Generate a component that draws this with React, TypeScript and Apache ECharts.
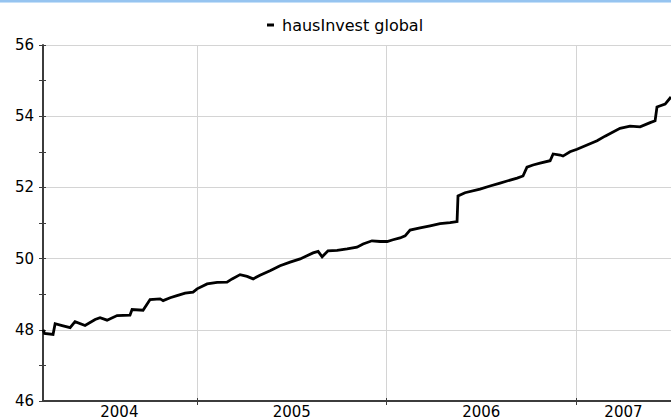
import React, { useEffect, useRef } from "react";
import * as echarts from "echarts";

const seriesName = "hausInvest global";
// decimal years
const dates = [
  2004.187, 2004.195, 2004.24, 2004.251, 2004.288, 2004.33, 2004.356, 2004.409, 2004.462, 2004.488,
  2004.525, 2004.578, 2004.646, 2004.657, 2004.715, 2004.752, 2004.805, 2004.821, 2004.858, 2004.894,
  2004.937, 2004.979, 2005.0, 2005.053, 2005.106, 2005.158, 2005.185, 2005.227, 2005.264, 2005.296,
  2005.332, 2005.385, 2005.438, 2005.491, 2005.544, 2005.58, 2005.612, 2005.639, 2005.66, 2005.691,
  2005.739, 2005.792, 2005.844, 2005.876, 2005.923, 2005.966, 2006.003, 2006.034, 2006.071, 2006.098,
  2006.124, 2006.177, 2006.23, 2006.282, 2006.335, 2006.372, 2006.377, 2006.414, 2006.493, 2006.546,
  2006.599, 2006.636, 2006.689, 2006.72, 2006.741, 2006.773, 2006.81, 2006.863, 2006.879, 2006.916,
  2006.931, 2006.968, 2007.005, 2007.058, 2007.111, 2007.153, 2007.232, 2007.285, 2007.338, 2007.391,
  2007.417, 2007.427, 2007.47, 2007.501,
];
const values = [
  48.0, 47.9, 47.87, 48.17, 48.12, 48.06, 48.23, 48.12, 48.29, 48.34,
  48.27, 48.4, 48.41, 48.57, 48.55, 48.85, 48.87, 48.82, 48.9, 48.96,
  49.03, 49.06, 49.15, 49.29, 49.33, 49.34, 49.43, 49.55, 49.5, 49.43,
  49.53, 49.66, 49.8, 49.9, 49.99, 50.08, 50.16, 50.2, 50.05, 50.22,
  50.23, 50.27, 50.32, 50.41, 50.5, 50.48, 50.48, 50.53, 50.58, 50.64,
  50.8, 50.86, 50.92, 50.98, 51.01, 51.04, 51.76, 51.85, 51.95, 52.04,
  52.12, 52.18, 52.26, 52.32, 52.57, 52.63, 52.68, 52.75, 52.94, 52.91,
  52.88, 53.0, 53.07, 53.19, 53.31, 53.44, 53.66, 53.72, 53.7, 53.82,
  53.87, 54.26, 54.34, 54.54,
];
const xMin = 2004.187;
const xMax = 2007.501;
const yearBoundaries = [2005, 2006, 2007];
const yearLabelPositions = [2004.59, 2005.5, 2006.5, 2007.25];
const yMin = 46;
const yMax = 56;

export default function App() {
  const ref = useRef<HTMLDivElement>(null);
  useEffect(() => {
    if (!ref.current) return;
    const chart = echarts.init(ref.current, null, { renderer: "svg" });
    const font = "'DejaVu Sans', Verdana, sans-serif";
    const axisColor = "#3c3c3c";
    chart.setOption({
      animation: false,
      backgroundColor: "#ffffff",
      textStyle: { fontFamily: font },
      graphic: [
        { type: "rect", left: 0, top: 0, shape: { width: 671, height: 2 }, style: { fill: "#96c4f0" } },
        { type: "rect", left: 0, top: 2, shape: { width: 671, height: 1 }, style: { fill: "#c6e0f8" } },
      ],
      legend: {
        top: 12,
        left: 262,
        icon: "rect",
        itemWidth: 7,
        itemHeight: 3,
        textStyle: { color: "#000", fontSize: 16, fontFamily: font, padding: [0, 0, 0, 3] },
        data: [seriesName],
      },
      grid: { left: 43, right: 0, top: 45, bottom: 18, containLabel: false },
      xAxis: [
        {
          type: "value",
          min: xMin,
          max: xMax,
          axisLine: { show: true, lineStyle: { color: axisColor, width: 2 } },
          axisTick: { show: true, length: 4, customValues: yearBoundaries, lineStyle: { color: axisColor, width: 1 } },
          axisLabel: {
            customValues: yearLabelPositions,
            formatter: (v: number) => String(Math.floor(v)),
            color: "#000",
            fontSize: 15,
            margin: 3,
            fontFamily: font,
          },
          splitLine: { show: true, lineStyle: { color: "#d4d4d4", width: 1 } },
        },
        {
          type: "value",
          min: xMin,
          max: xMax,
          position: "bottom",
          axisLine: { show: false },
          axisTick: { show: true, inside: true, length: 3, customValues: yearBoundaries, lineStyle: { color: axisColor, width: 1 } },
          axisLabel: { show: false },
          splitLine: { show: false },
        },
      ],
      yAxis: [
        {
          type: "value",
          min: yMin,
          max: yMax,
          interval: 2,
          axisLine: { show: true, lineStyle: { color: axisColor, width: 2 } },
          axisTick: { show: true, length: 4, lineStyle: { color: axisColor, width: 1 } },
          minorTick: { show: true, splitNumber: 2, length: 4, lineStyle: { color: axisColor, width: 1 } },
          axisLabel: { color: "#000", fontSize: 15, margin: 9, fontFamily: font },
          splitLine: { show: true, lineStyle: { color: "#d4d4d4", width: 1 } },
        },
        {
          type: "value",
          min: yMin,
          max: yMax,
          interval: 1,
          position: "left",
          axisLine: { show: false },
          axisTick: { show: true, inside: true, length: 3, lineStyle: { color: axisColor, width: 1 } },
          axisLabel: { show: false },
          splitLine: { show: false },
        },
      ],
      series: [
        {
          name: seriesName,
          type: "line",
          xAxisIndex: 0,
          yAxisIndex: 0,
          showSymbol: false,
          symbol: "none",
          lineStyle: { color: "#000", width: 2.8, join: "miter" },
          itemStyle: { color: "#000" },
          data: dates.map((d, i) => [d, values[i]]),
        },
      ],
    });
    return () => chart.dispose();
  }, []);
  return (
    <div
      ref={ref}
      style={{ position: "fixed", left: 0, top: 0, width: 671, height: 419, background: "#fff" }}
    />
  );
}
